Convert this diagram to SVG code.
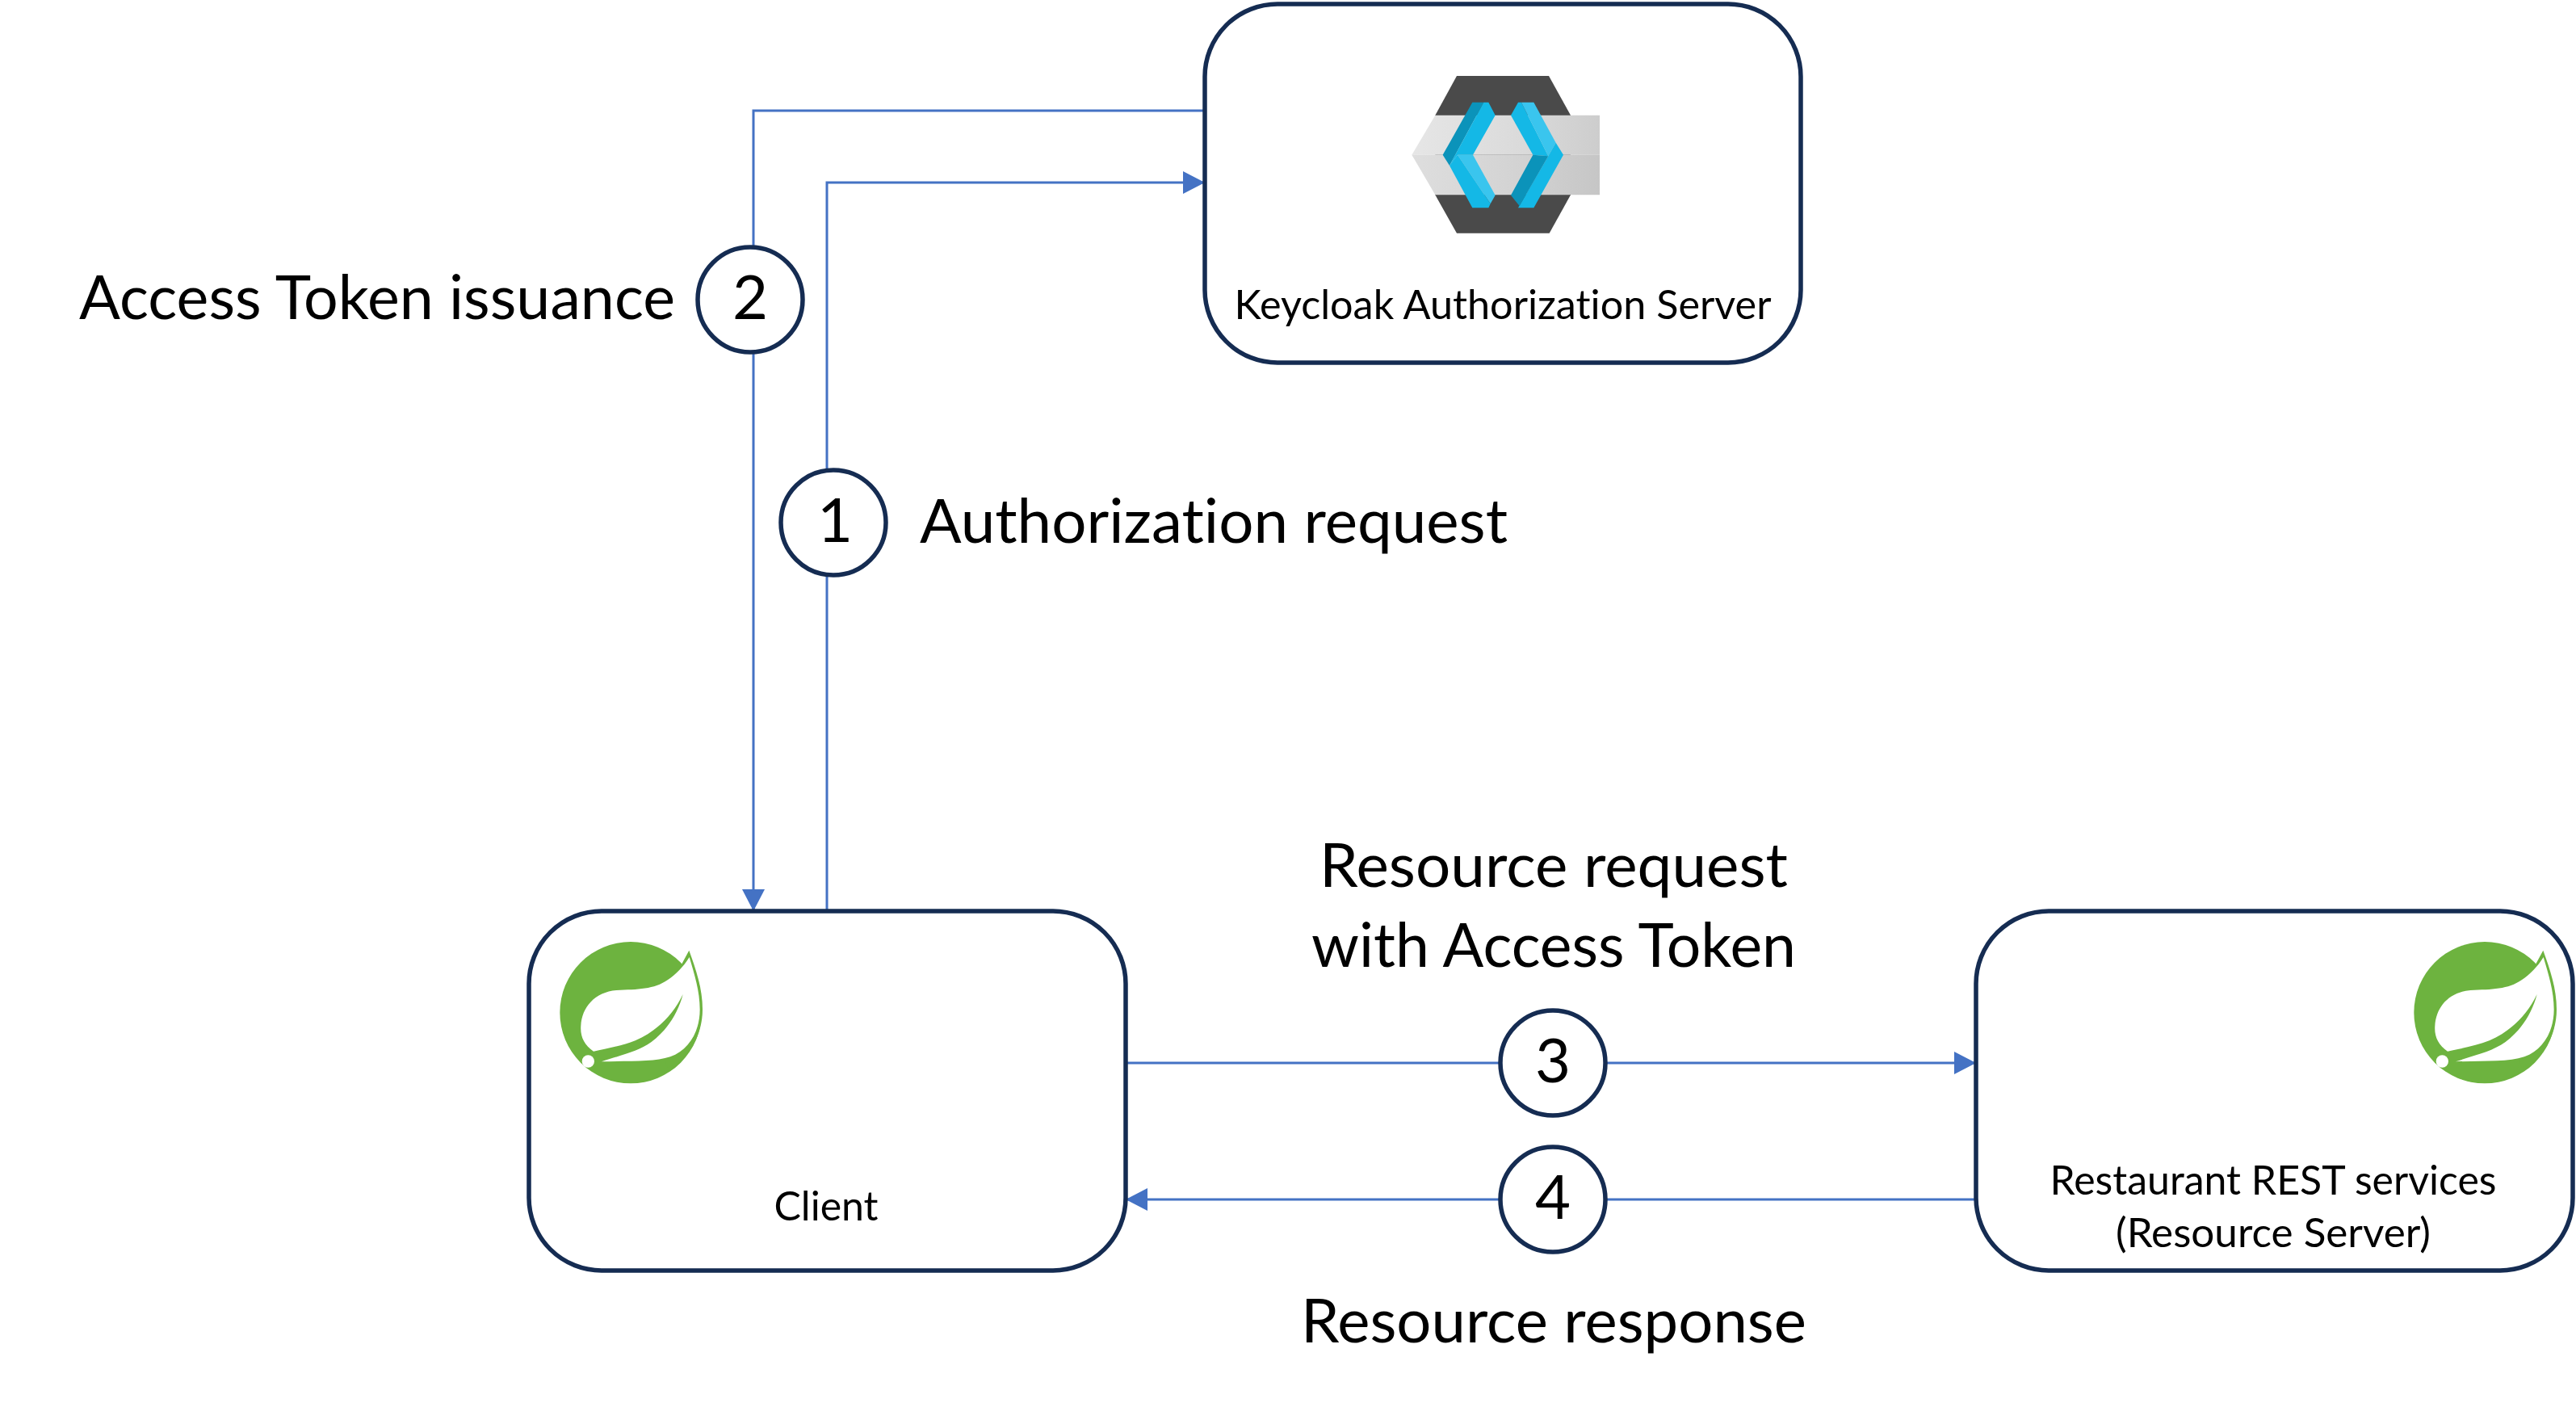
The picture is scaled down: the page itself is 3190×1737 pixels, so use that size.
<svg xmlns="http://www.w3.org/2000/svg" width="3190" height="1737" viewBox="0 0 3190 1737">
<style>
.box{fill:#fff;stroke:#152c52;stroke-width:5.5}
.num{fill:#fff;stroke:#152c52;stroke-width:5.5}
.conn{fill:none;stroke:#4472c4;stroke-width:3}
text{font-family:"Lato","Open Sans",sans-serif;fill:#000;font-variant-ligatures:none}
.lbl{font-size:76px;text-anchor:middle}
.dig{font-size:76px;text-anchor:middle}
.cap{font-size:50px;text-anchor:middle}
</style>
<defs>
<marker id="arr" markerUnits="userSpaceOnUse" markerWidth="27" markerHeight="28" refX="27" refY="14" orient="auto"><path d="M0 0L27 14L0 28Z" fill="#4472c4"/></marker>
<linearGradient id="band" x1="0" x2="1" y1="0" y2="0"><stop offset="0" stop-color="#e6e6e6"/><stop offset=".6" stop-color="#dadada"/><stop offset="1" stop-color="#cdcdcd"/></linearGradient>
<linearGradient id="band2" x1="0" x2="1" y1="0" y2="0"><stop offset="0" stop-color="#dedede"/><stop offset=".6" stop-color="#d2d2d2"/><stop offset="1" stop-color="#c6c6c6"/></linearGradient>
<g id="spring">
<circle cx="423" cy="461" r="263" fill="#6db33f"/>
<path d="M612 282L640 230C665 300 690 370 690 450C690 540 640 640 560 665L500 500Z" fill="#6db33f"/>
<path d="M285 605C250 580 235 550 238 510C242 440 290 385 370 378C450 375 510 375 560 340C590 320 620 290 641 255C660 320 680 380 680 450C680 530 640 600 570 625C510 645 420 640 315 643C400 615 450 605 500 570C560 525 600 460 617 393C580 470 520 530 440 565C390 585 330 595 285 605Z" fill="#fff"/>
<circle cx="265" cy="642" r="23" fill="#fff"/>
</g>
</defs>
<g id="connectors">
<path class="conn" d="M1024 1128V226H1492" marker-end="url(#arr)"/>
<path class="conn" d="M1492 137H933V1128" marker-end="url(#arr)"/>
<path class="conn" d="M1394 1316H2447" marker-end="url(#arr)"/>
<path class="conn" d="M2447 1485H1394" marker-end="url(#arr)"/>
</g>
<g id="node-keycloak">
<rect class="box" x="1492" y="5" width="738" height="444" rx="90"/>
<g transform="translate(1680 60) scale(.33333)">
<polygon points="372,102 714,102 795,248 795,544 716,686 372,686 292,544 292,248" fill="#4a4a4a"/>
<polygon points="205,395 292,248 903,248 903,395" fill="url(#band)"/>
<polygon points="205,395 292,544 903,544 903,395" fill="url(#band2)"/>
<polygon points="430,200 472,200 345,435 320,395" fill="#0b93ba"/>
<polygon points="472,200 490,200 515,248 432,395 375,395 345,435" fill="#14b8e6"/>
<polygon points="375,395 432,395 515,545 497,577" fill="#3ac5ee"/>
<polygon points="345,435 375,395 497,577 490,592 430,592" fill="#14b8e6"/>
<polygon points="573,248 600,200 612,200 712,400 655,395" fill="#14b8e6"/>
<polygon points="612,200 658,200 740,350 712,400" fill="#3ac5ee"/>
<polygon points="712,400 740,350 768,395 658,592 600,592" fill="#14b8e6"/>
<polygon points="655,395 712,400 605,585 573,545" fill="#0b93ba"/>
</g>
<text class="cap" x="1861" y="395" textLength="665" lengthAdjust="spacingAndGlyphs">Keycloak Authorization Server</text>
</g>
<g id="node-client">
<rect class="box" x="655" y="1128" width="739" height="445" rx="90"/>
<use href="#spring" transform="translate(640 1100) scale(.33333)"/>
<text class="cap" x="1023" y="1511">Client</text>
</g>
<g id="node-resource">
<rect class="box" x="2447" y="1128" width="739" height="445" rx="90"/>
<use href="#spring" transform="translate(2936 1100) scale(.33333)"/>
<text class="cap" x="2815" y="1479">Restaurant REST services</text>
<text class="cap" x="2815" y="1544" textLength="390" lengthAdjust="spacingAndGlyphs">(Resource Server)</text>
</g>
<g id="step-1"><circle class="num" cx="1032" cy="647" r="65"/><text class="dig" x="1034" y="671">1</text></g>
<g id="step-2"><circle class="num" cx="929" cy="371" r="65"/><text class="dig" x="929" y="395">2</text></g>
<g id="step-3"><circle class="num" cx="1923" cy="1316" r="65"/><text class="dig" x="1923" y="1340">3</text></g>
<g id="step-4"><circle class="num" cx="1923" cy="1485" r="65"/><text class="dig" x="1923" y="1509">4</text></g>
<g id="labels">
<text class="lbl" x="467" y="395" textLength="738" lengthAdjust="spacingAndGlyphs">Access Token issuance</text>
<text class="lbl" x="1503" y="672" textLength="728" lengthAdjust="spacingAndGlyphs">Authorization request</text>
<text class="lbl" x="1924" y="1098" textLength="580" lengthAdjust="spacingAndGlyphs">Resource request</text>
<text class="lbl" x="1924" y="1197" textLength="600" lengthAdjust="spacingAndGlyphs">with Access Token</text>
<text class="lbl" x="1924" y="1662" textLength="626" lengthAdjust="spacingAndGlyphs">Resource response</text>
</g>
</svg>
